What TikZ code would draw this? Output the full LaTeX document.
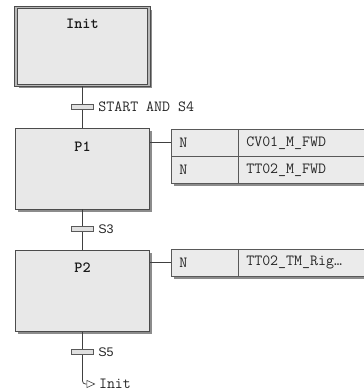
\documentclass[tikz,border=0pt]{standalone}
\usepackage{fontspec}
\setsansfont{Liberation Sans}
\usetikzlibrary{arrows.meta,shadows}

\tikzset{
  boxshadow/.style={drop shadow={shadow xshift=2.5pt,shadow yshift=-2.5pt,fill=black!60,opacity=0.75}},
  stepbox/.style={draw=black!70,fill=black!9,line width=0.8pt,minimum width=134pt,
    minimum height=81pt,inner sep=0pt,boxshadow},
  initbox/.style={stepbox,double=black!28,double distance=1.6pt,minimum width=133pt,minimum height=78pt},
  steplabel/.style={font=\ttfamily\bfseries\fontsize{15.5}{15.5}\selectfont\addfontfeatures{LetterSpace=6},text=black!90},
  transbar/.style={draw=black!65,fill=black!12,line width=0.6pt,minimum width=22pt,
    minimum height=5.5pt,inner sep=0pt},
  translabel/.style={font=\ttfamily\fontsize{15.5}{15.5}\selectfont\addfontfeatures{LetterSpace=11},text=black!85},
  condlabel/.style={font=\sffamily\fontsize{12.5}{12.5}\selectfont,text=black!85},
  actcell/.style={draw=black!65,fill=black!8,line width=0.6pt,minimum height=27pt,
    inner xsep=8pt,inner ysep=0pt,anchor=north west,align=left,boxshadow,
    font=\ttfamily\fontsize{15.5}{15.5}\selectfont\addfontfeatures{LetterSpace=11},text=black!85},
  link/.style={draw=black!75,line width=0.8pt}
}

\begin{document}
\begin{tikzpicture}[x=1pt,y=-1pt]
 \useasboundingbox (0,0) rectangle (364,392);
 \clip (0,0) rectangle (364,392);

 % steps
 \node[initbox] (init) at (82.5,46.6) {};
 \node[stepbox] (p1) at (82.5,168.5) {};
 \node[stepbox] (p2) at (82.5,291) {};
 \node[steplabel] (initlbl) at (82.5,24) {Init};
 \node[steplabel] (p1lbl) at (82.5,147) {P1};
 \node[steplabel] (p2lbl) at (82.5,268) {P2};

 % jump target
 \node[translabel,right] (jmp) at (95.5,384) {Init};

 % links between steps
 \draw[link] (init.south) -- (p1.north);
 \draw[link] (p1.south) -- (p2.north);
 \draw[link,rounded corners=3pt,-{Triangle[open,length=9pt,width=8pt,line width=0.6pt]}]
   (p2.south) |- (jmp.west);

 % transitions
 \node[transbar] (t1) at (82.5,107) {};
 \node[transbar] (t2) at (82.5,229) {};
 \node[transbar] (t3) at (82.5,352) {};
 \node[translabel,right] (c1) at ([xshift=1pt]t1.east) {START AND S4};
 \node[condlabel,right] (c2) at ([xshift=1pt]t2.east) {S3};
 \node[condlabel,right] (c3) at ([xshift=1pt]t3.east) {S5};

 % actions of P1
 \node[actcell,minimum width=67pt,text width=51pt] (a1q) at (171,129) {N};
 \node[actcell,minimum width=130pt,text width=114pt] (a1n) at (238,129) {CV01\_M\_FWD};
 \node[actcell,minimum width=67pt,text width=51pt] (a2q) at (171,156) {N};
 \node[actcell,minimum width=130pt,text width=114pt] (a2n) at (238,156) {TT02\_M\_FWD};
 \draw[link] (a1q.west) -- (a1q.west -| p1.east);

 % actions of P2
 \node[actcell,minimum width=67pt,text width=51pt] (a3q) at (171,249) {N};
 \node[actcell,minimum width=130pt,text width=114pt] (a3n) at (238,249) {TT02\_TM\_Rig…};
 \draw[link] (a3q.west) -- (a3q.west -| p2.east);
\end{tikzpicture}
\end{document}
